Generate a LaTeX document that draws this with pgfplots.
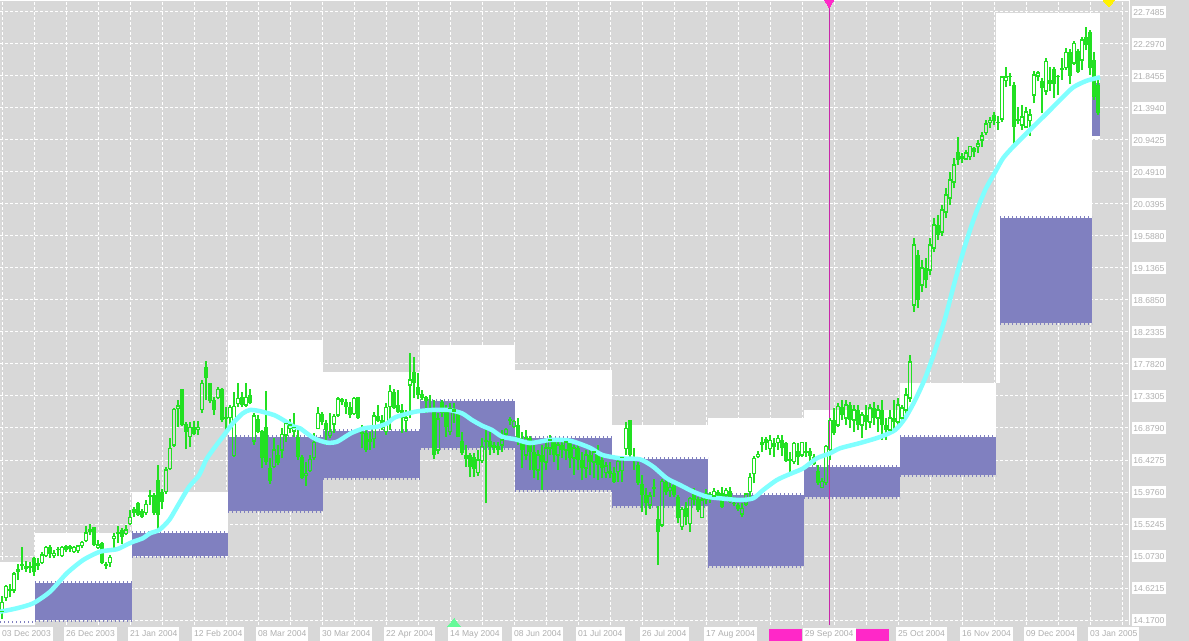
\documentclass[border=0pt]{standalone}
\usepackage{pgfplots}
\pgfplotsset{compat=1.18}
\usepackage{pgfplotstable}
\usepackage{fontspec}
\setmainfont{Liberation Sans}
\definecolor{bgc}{RGB}{216,216,216}
\definecolor{purp}{RGB}{128,128,192}
\definecolor{maC}{RGB}{128,255,255}
\definecolor{cand}{RGB}{34,224,34}
\definecolor{lbl}{RGB}{175,175,175}
\definecolor{pinkc}{RGB}{255,40,200}
\definecolor{vlc}{RGB}{200,40,170}
\definecolor{trig}{RGB}{102,250,153}
\newcommand\lf{\fontsize{8.6}{10}\selectfont}

\pgfplotstableread{
i o h l c
0 14.287 14.509 14.184 14.420
1 14.485 14.664 14.442 14.645
3 14.593 14.843 14.547 14.819
9 14.946 15.041 14.876 14.964
10 14.984 15.134 14.960 15.087
11 15.083 15.218 15.055 15.190
13 15.077 15.158 15.041 15.111
15 15.083 15.218 15.063 15.190
18 15.134 15.214 15.120 15.196
19 15.148 15.228 15.120 15.214
20 15.224 15.289 15.182 15.261
21 15.295 15.496 15.275 15.398
22 15.416 15.520 15.369 15.440
24 15.190 15.299 15.172 15.228
27 14.984 15.087 14.922 15.049
28 15.323 15.393 15.168 15.345
29 15.388 15.496 15.261 15.407
31 15.393 15.510 15.369 15.440
32 15.534 15.720 15.510 15.619
36 15.684 15.863 15.651 15.797
37 15.910 16.004 15.793 15.924
41 15.980 16.333 15.948 16.286
42 16.310 16.734 16.286 16.593
43 16.639 17.157 16.615 17.143
44 17.151 17.274 16.897 17.189
47 16.756 16.968 16.607 16.889
49 16.861 16.982 16.780 16.889
50 17.143 17.556 17.086 17.510
54 17.307 17.462 17.284 17.425
57 17.024 17.203 16.889 17.171
58 16.488 17.387 16.474 17.180
59 17.228 17.510 17.180 17.292
61 17.203 17.510 17.180 17.307
63 16.696 17.086 16.639 17.048
68 16.333 16.734 16.310 16.569
70 16.569 16.875 16.452 16.790
71 16.780 16.978 16.686 16.945
72 16.875 17.006 16.804 16.921
73 16.837 17.086 16.756 16.889
76 16.206 16.403 16.065 16.240
77 16.277 16.498 16.254 16.437
78 16.460 16.804 16.428 16.672
79 16.875 17.180 16.865 17.086
82 16.770 17.086 16.734 16.827
83 16.935 17.072 16.804 17.038
84 17.062 17.312 17.038 17.288
88 17.086 17.312 17.062 17.298
92 16.696 16.827 16.569 16.710
93 16.734 17.109 16.593 17.048
96 16.827 17.228 16.780 17.165
97 17.180 17.486 16.851 17.391
101 16.988 17.133 16.827 17.020
102 17.486 17.941 17.016 17.556
109 16.569 17.086 16.508 17.006
112 16.827 17.228 16.780 17.157
113 17.109 17.228 16.954 17.133
119 16.248 16.569 16.202 16.428
120 16.418 16.734 16.389 16.615
123 16.607 16.686 16.522 16.625
125 16.639 16.851 16.545 16.710
126 16.794 16.875 16.756 16.861
127 16.988 17.038 16.921 17.002
128 16.897 16.992 16.875 16.968
131 16.498 16.851 16.428 16.738
134 16.286 16.569 16.145 16.498
136 16.399 16.710 16.286 16.597
137 16.597 16.780 16.498 16.710
139 16.498 16.710 16.286 16.639
141 16.569 16.738 16.428 16.681
143 16.456 16.639 16.216 16.597
146 16.315 16.569 16.174 16.498
148 16.399 16.569 16.174 16.540
151 16.248 16.403 16.169 16.343
154 16.263 16.452 16.121 16.403
155 16.277 16.474 16.121 16.466
156 16.593 16.968 16.498 16.875
162 15.793 15.980 15.732 15.920
163 16.032 16.159 15.910 16.042
165 15.510 16.155 15.486 16.121
167 15.994 16.121 15.910 16.042
170 15.486 15.769 15.440 15.732
172 15.534 15.910 15.416 15.887
175 15.619 15.934 15.605 15.863
178 15.920 16.028 15.863 15.980
181 15.934 16.028 15.863 15.994
185 15.666 15.825 15.619 15.746
186 15.807 15.966 15.778 15.948
187 15.980 16.248 15.910 16.183
188 16.240 16.484 16.099 16.452
189 16.474 16.559 16.452 16.508
190 16.653 16.756 16.545 16.672
192 16.593 16.780 16.498 16.700
194 16.672 16.780 16.569 16.734
198 16.403 16.686 16.371 16.663
200 16.498 16.686 16.474 16.672
205 16.042 16.169 16.028 16.121
206 16.107 16.639 16.075 16.615
207 16.578 17.016 16.428 16.982
209 16.921 17.228 16.897 17.180
211 17.020 17.274 16.921 17.203
213 16.992 17.203 16.823 17.133
215 16.921 17.105 16.738 17.062
217 16.964 17.218 16.879 17.161
219 17.020 17.203 16.823 17.133
222 16.851 17.133 16.780 17.020
224 16.964 17.302 16.921 17.203
225 17.020 17.203 16.964 17.161
226 17.133 17.443 17.062 17.345
227 17.302 17.909 17.246 17.810
228 18.614 19.560 18.516 19.461
230 18.897 19.249 18.798 19.137
232 19.108 19.560 19.038 19.461
233 19.419 19.842 19.362 19.743
235 19.644 20.025 19.588 19.955
236 19.927 20.265 19.842 20.167
237 20.124 20.491 20.025 20.378
238 20.350 20.689 20.265 20.590
241 20.674 20.801 20.660 20.759
242 20.707 20.862 20.660 20.848
244 20.848 20.943 20.759 20.886
245 20.943 21.060 20.848 20.999
246 21.046 21.225 21.013 21.168
247 21.187 21.263 21.108 21.215
250 21.239 21.846 21.200 21.831
251 21.778 21.976 21.694 21.831
255 21.154 21.436 21.083 21.267
256 21.126 21.412 21.108 21.338
257 21.215 21.375 21.000 21.295
258 21.577 21.920 21.460 21.859
259 21.846 21.920 21.769 21.888
261 21.634 22.095 21.577 22.053
266 21.969 22.237 21.930 22.181
268 22.029 22.334 22.001 22.301
270 22.071 22.400 21.930 22.353
}\bull

\pgfplotstableread{
i o h l c
2 14.612 14.678 14.490 14.583
4 14.890 14.956 14.734 14.851
5 14.956 15.196 14.876 14.928
6 14.932 15.007 14.851 14.894
7 14.928 14.993 14.837 14.908
8 15.041 15.055 14.791 14.851
12 15.200 15.224 15.041 15.105
14 15.172 15.204 15.073 15.158
16 15.218 15.228 15.134 15.153
17 15.214 15.224 15.125 15.168
23 15.482 15.486 15.214 15.228
25 15.261 15.275 14.956 14.970
26 14.956 14.993 14.894 14.936
30 15.440 15.464 15.242 15.345
33 15.736 15.769 15.627 15.675
34 15.817 15.835 15.642 15.651
35 15.708 15.732 15.613 15.619
38 15.934 15.966 15.651 15.675
39 16.145 16.357 15.454 15.651
40 15.972 16.014 15.736 15.839
45 17.425 17.430 16.907 16.921
46 16.935 16.968 16.578 16.827
48 16.889 16.982 16.776 16.794
51 17.735 17.824 17.274 17.580
52 17.510 17.518 17.228 17.264
53 17.274 17.321 17.062 17.133
55 17.425 17.439 16.959 16.992
56 17.034 17.180 16.813 17.010
60 17.321 17.391 17.180 17.203
62 17.340 17.425 17.213 17.228
64 17.002 17.062 16.804 16.827
65 16.837 16.851 16.310 16.452
66 16.893 17.401 16.357 16.403
67 16.310 16.452 16.085 16.131
69 16.498 16.639 16.357 16.381
74 16.756 16.897 16.428 16.474
75 16.474 16.498 16.159 16.169
80 17.072 17.109 16.921 16.968
81 16.945 16.992 16.639 16.851
85 17.288 17.307 17.203 17.242
86 17.242 17.284 17.077 17.180
87 17.180 17.242 17.016 17.062
89 17.312 17.316 17.006 17.016
90 16.827 16.921 16.593 16.799
91 16.804 16.851 16.536 16.569
94 17.048 17.203 16.959 16.978
95 16.992 17.062 16.851 16.875
98 17.391 17.425 17.147 17.157
99 17.203 17.415 17.095 17.109
100 17.133 17.218 16.804 17.016
103 17.673 17.885 17.298 17.518
104 17.462 17.651 17.284 17.345
105 17.354 17.415 17.274 17.298
106 17.312 17.331 17.095 17.260
107 17.147 17.345 17.109 17.119
108 17.143 17.274 16.437 16.498
110 17.246 17.274 17.038 17.095
111 17.157 17.203 16.756 16.889
114 17.086 17.109 16.748 16.756
115 16.696 16.827 16.498 16.530
116 16.498 16.639 16.333 16.442
117 16.498 16.522 16.192 16.324
118 16.466 16.522 16.192 16.300
121 16.710 16.851 15.817 16.686
122 16.700 16.827 16.498 16.615
124 16.625 16.686 16.498 16.569
129 16.921 17.020 16.639 16.710
130 16.710 16.823 16.315 16.569
132 16.738 16.766 16.286 16.540
133 16.540 16.710 16.174 16.286
135 16.498 16.639 16.004 16.399
138 16.710 16.738 16.399 16.498
140 16.639 16.710 16.456 16.569
142 16.681 16.710 16.315 16.456
144 16.597 16.639 16.286 16.428
145 16.428 16.540 16.145 16.315
147 16.498 16.569 16.216 16.399
149 16.540 16.639 16.145 16.357
150 16.428 16.474 16.169 16.310
152 16.277 16.403 16.169 16.230
153 16.240 16.333 16.099 16.121
157 16.992 16.995 16.474 16.498
158 16.474 16.593 16.286 16.428
159 16.357 16.403 16.075 16.107
160 16.089 16.216 15.698 15.934
161 15.934 16.028 15.651 15.817
164 15.591 15.778 14.946 15.416
166 16.121 16.155 15.934 15.980
168 16.075 16.107 15.910 15.934
169 15.901 15.934 15.534 15.605
171 15.746 15.839 15.510 15.627
173 15.958 16.028 15.793 15.863
174 15.873 15.910 15.698 15.722
176 15.966 16.014 15.807 15.863
177 15.943 15.980 15.825 15.910
179 15.980 16.004 15.863 15.887
180 15.966 16.042 15.746 15.769
182 15.994 16.042 15.825 15.839
183 15.825 15.910 15.778 15.807
184 15.793 15.825 15.708 15.732
191 16.720 16.748 16.569 16.663
193 16.663 16.734 16.474 16.615
195 16.710 16.780 16.484 16.593
196 16.663 16.686 16.403 16.418
197 16.437 16.545 16.263 16.413
199 16.559 16.663 16.357 16.466
201 16.559 16.686 16.474 16.522
202 16.559 16.593 16.418 16.484
203 16.474 16.512 16.357 16.371
204 16.277 16.357 16.075 16.099
208 16.992 17.157 16.780 16.804
210 17.175 17.274 16.992 17.062
212 17.203 17.246 16.879 16.992
214 17.133 17.203 16.851 16.921
216 17.062 17.203 16.851 16.964
218 17.161 17.246 16.921 17.020
220 17.133 17.274 16.710 16.921
221 16.921 17.020 16.710 16.851
223 17.020 17.274 16.851 16.964
229 19.320 19.390 18.572 18.685
231 19.137 19.278 18.854 18.967
234 19.743 19.884 19.532 19.602
239 20.773 20.985 20.590 20.660
240 20.717 20.759 20.618 20.674
243 20.829 20.848 20.707 20.773
248 21.295 21.341 21.154 21.215
249 21.200 21.281 21.083 21.187
252 21.846 21.892 21.704 21.831
253 21.718 21.761 20.848 21.130
254 21.239 21.412 21.168 21.215
260 21.769 21.822 21.320 21.676
262 21.789 21.976 21.634 21.732
263 21.944 21.976 21.540 21.732
264 21.846 21.860 21.577 21.831
265 21.955 22.095 21.789 21.930
267 22.181 22.223 21.727 21.846
269 22.200 22.223 21.883 21.906
271 22.391 22.532 22.212 22.282
272 22.461 22.494 21.860 21.955
273 22.071 22.188 21.508 21.545
274 21.718 21.799 21.295 21.327
}\bear

\pgfplotstableread{
i p
-0.5 14.287
3.7 14.335
7.8 14.406
12 14.569
16.2 14.829
20.3 15.017
24.5 15.134
28.7 15.168
31 15.228
32.8 15.275
35.2 15.323
37 15.393
39.3 15.44
41.8 15.581
44.3 15.817
46.8 16.051
49.3 16.216
51 16.428
52.7 16.569
55.2 16.756
57.7 16.945
60.2 17.086
62 17.133
64.3 17.119
68 17.062
70.3 16.992
73 16.897
74.5 16.875
78 16.734
81.3 16.672
83.8 16.686
87.2 16.804
90.5 16.875
93.8 16.897
96.3 16.945
98.3 17.03
103.3 17.109
107.5 17.133
111.7 17.133
115 17.086
117.5 16.992
120 16.912
122.5 16.851
125 16.756
128.3 16.72
132 16.667
137 16.71
142 16.70
147 16.60
150 16.50
154.5 16.452
159.5 16.437
162.8 16.333
166.2 16.169
169.5 16.075
172.8 15.98
176.2 15.91
179.5 15.887
184.5 15.863
187.8 15.887
190.3 16.004
193.7 16.145
197 16.23
200.3 16.31
203.7 16.452
207 16.522
209.5 16.593
214.5 16.667
219.5 16.752
223.3 16.851
225.8 17.02
228.3 17.274
230.8 17.584
233.3 17.98
235.8 18.43
238.3 18.967
240.8 19.461
243.3 19.884
245.8 20.237
248.3 20.491
250.3 20.689
252.8 20.848
255.3 20.989
257.8 21.13
261.2 21.319
264.5 21.507
267.8 21.686
271.2 21.779
274.5 21.827
}\ma

\begin{document}
\begin{tikzpicture}
\useasboundingbox (0,0) rectangle (1189bp,641bp);
\fill[bgc] (0,0) rectangle (1189bp,641bp);
\begin{axis}[
  at={(0bp,16bp)}, anchor=south west,
  x=4bp, y=70.8749bp,
  xmin=-0.5, xmax=281.75,
  ymin=14.0995, ymax=22.9037,
  axis line style={draw=none},
  clip=false,
  major tick length=0pt, minor tick length=0pt,
  xtick={0,16,32,48,64,80,96,112,128,144,160,176,224,240,256,272},
  xticklabels={03 Dec 2003,26 Dec 2003,21 Jan 2004,12 Feb 2004,08 Mar 2004,30 Mar 2004,22 Apr 2004,14 May 2004,08 Jun 2004,01 Jul 2004,26 Jul 2004,17 Aug 2004,25 Oct 2004,16 Nov 2004,09 Dec 2004,03 Jan 2005},
  minor xtick={8,24,40,56,72,88,104,120,136,152,168,184,192,200,208,216,232,248,264,280},
  ytick={14.17,14.6215,15.073,15.5245,15.976,16.4275,16.879,17.3305,17.782,18.2335,18.685,19.1365,19.588,20.0395,20.491,20.9425,21.394,21.8455,22.297,22.7485},
  yticklabels={14.1700,14.6215,15.0730,15.5245,15.9760,16.4275,16.8790,17.3305,17.7820,18.2335,18.6850,19.1365,19.5880,20.0395,20.4910,20.9425,21.3940,21.8455,22.2970,22.7485},
  yticklabel pos=right,
  grid=both,
  major grid style={white, line width=1bp, dash pattern=on 3bp off 2bp},
  minor grid style={white, line width=1bp, dash pattern=on 3bp off 2bp},
  xticklabel style={font=\lf, text=lbl, fill=white, anchor=north west, inner xsep=2bp, inner ysep=3bp, text height=6.3bp, text depth=1.6bp, xshift=-2bp, yshift=-2bp},
  yticklabel style={font=\lf, text=lbl, fill=white, anchor=west, inner xsep=1.7bp, inner ysep=3.3bp, text height=6.3bp, text depth=0bp, xshift=2.5bp},
]
% white range boxes
\addplot[fill=white, draw=none] coordinates {(-0.5,14.0995) (8.25,14.0995) (8.25,14.988) (-0.5,14.988)};
\addplot[fill=white, draw=none] coordinates {(8.25,14.17) (32.5,14.17) (32.5,15.398) (8.25,15.398)};
\addplot[fill=white, draw=none] coordinates {(32.5,15.073) (56.5,15.073) (56.5,15.976) (32.5,15.976)};
\addplot[fill=white, draw=none] coordinates {(56.5,15.708) (80.25,15.708) (80.25,18.121) (56.5,18.121)};
\addplot[fill=white, draw=none] coordinates {(80.25,16.174) (104.5,16.174) (104.5,17.669) (80.25,17.669)};
\addplot[fill=white, draw=none] coordinates {(104.5,16.597) (128.25,16.597) (128.25,18.05) (104.5,18.05)};
\addplot[fill=white, draw=none] coordinates {(128.25,16.004) (152.5,16.004) (152.5,17.697) (128.25,17.697)};
\addplot[fill=white, draw=none] coordinates {(152.5,15.778) (176.5,15.778) (176.5,16.921) (152.5,16.921)};
\addplot[fill=white, draw=none] coordinates {(176.5,14.932) (200.5,14.932) (200.5,17.02) (176.5,17.02)};
\addplot[fill=white, draw=none] coordinates {(200.5,15.905) (224.5,15.905) (224.5,17.133) (200.5,17.133)};
\addplot[fill=white, draw=none] coordinates {(224.5,16.216) (248.5,16.216) (248.5,17.514) (224.5,17.514)};
\addplot[fill=white, draw=none] coordinates {(248.5,17.514) (249.5,17.514) (249.5,22.734) (248.5,22.734)};
\addplot[fill=white, draw=none] coordinates {(248.5,18.36) (272.5,18.36) (272.5,22.734) (248.5,22.734)};
\addplot[fill=white, draw=none] coordinates {(272.5,20.95) (274.5,20.95) (274.5,22.734) (272.5,22.734)};
% purple boxes
\addplot[fill=purp, draw=none] coordinates {(8.25,14.17) (32.5,14.17) (32.5,14.692) (8.25,14.692)};
\addplot[fill=purp, draw=none] coordinates {(32.5,15.073) (56.5,15.073) (56.5,15.398) (32.5,15.398)};
\addplot[fill=purp, draw=none] coordinates {(56.5,15.708) (80.25,15.708) (80.25,16.752) (56.5,16.752)};
\addplot[fill=purp, draw=none] coordinates {(80.25,16.174) (104.5,16.174) (104.5,16.837) (80.25,16.837)};
\addplot[fill=purp, draw=none] coordinates {(104.5,16.597) (128.25,16.597) (128.25,17.26) (104.5,17.26)};
\addplot[fill=purp, draw=none] coordinates {(128.25,16.004) (152.5,16.004) (152.5,16.738) (128.25,16.738)};
\addplot[fill=purp, draw=none] coordinates {(152.5,15.778) (176.5,15.778) (176.5,16.442) (152.5,16.442)};
\addplot[fill=purp, draw=none] coordinates {(176.5,14.932) (200.5,14.932) (200.5,15.934) (176.5,15.934)};
\addplot[fill=purp, draw=none] coordinates {(200.5,15.905) (224.5,15.905) (224.5,16.329) (200.5,16.329)};
\addplot[fill=purp, draw=none] coordinates {(224.5,16.216) (248.5,16.216) (248.5,16.752) (224.5,16.752)};
\addplot[fill=purp, draw=none] coordinates {(249.5,18.36) (272.5,18.36) (272.5,19.842) (249.5,19.842)};
\addplot[fill=purp, draw=none] coordinates {(272.5,20.999) (274.5,20.999) (274.5,21.747) (272.5,21.747)};
% comb edges of purple boxes
\pgfplotsset{comb/.style={purp, line width=2bp, dash pattern=on 1bp off 3bp}}
\addplot[comb] coordinates {(-0.5,14.142) (8.25,14.142)};
\addplot[comb] coordinates {(8.25,14.706) (32.5,14.706)};
\addplot[comb] coordinates {(8.25,14.156) (32.5,14.156)};
\addplot[comb] coordinates {(32.5,15.412) (56.5,15.412)};
\addplot[comb] coordinates {(32.5,15.059) (56.5,15.059)};
\addplot[comb] coordinates {(56.5,16.766) (80.25,16.766)};
\addplot[comb] coordinates {(56.5,15.694) (80.25,15.694)};
\addplot[comb] coordinates {(80.25,16.851) (104.5,16.851)};
\addplot[comb] coordinates {(80.25,16.160) (104.5,16.160)};
\addplot[comb] coordinates {(104.5,17.274) (128.25,17.274)};
\addplot[comb] coordinates {(104.5,16.583) (128.25,16.583)};
\addplot[comb] coordinates {(128.25,16.752) (152.5,16.752)};
\addplot[comb] coordinates {(128.25,15.990) (152.5,15.990)};
\addplot[comb] coordinates {(152.5,16.456) (176.5,16.456)};
\addplot[comb] coordinates {(152.5,15.764) (176.5,15.764)};
\addplot[comb] coordinates {(176.5,15.948) (200.5,15.948)};
\addplot[comb] coordinates {(176.5,14.918) (200.5,14.918)};
\addplot[comb] coordinates {(200.5,16.343) (224.5,16.343)};
\addplot[comb] coordinates {(200.5,15.891) (224.5,15.891)};
\addplot[comb] coordinates {(224.5,16.766) (248.5,16.766)};
\addplot[comb] coordinates {(224.5,16.202) (248.5,16.202)};
\addplot[comb] coordinates {(249.5,19.856) (272.5,19.856)};
\addplot[comb] coordinates {(249.5,18.346) (272.5,18.346)};
% vertical line
\addplot[vlc, line width=1bp] coordinates {(206.8,14.0995) (206.8,22.9037)};
% bearish candles (filled)
\addplot[cand, line width=1.2bp, quiver={u=0, v=\thisrow{h}-\thisrow{l}}] table[x=i, y=l] {\bear};
\addplot[cand, line width=3.2bp, quiver={u=0, v=\thisrow{o}-\thisrow{c}}] table[x=i, y=c] {\bear};
% bullish candles (hollow)
\addplot[cand, line width=1.2bp, quiver={u=0, v=\thisrow{h}-\thisrow{c}}] table[x=i, y=c] {\bull};
\addplot[cand, line width=1.2bp, quiver={u=0, v=\thisrow{o}-\thisrow{l}}] table[x=i, y=l] {\bull};
\addplot[cand, line width=1.1bp, quiver={u=0, v=\thisrow{c}-\thisrow{o}}] table[x expr=\thisrow{i}-0.27, y=o] {\bull};
\addplot[cand, line width=1.1bp, quiver={u=0, v=\thisrow{c}-\thisrow{o}}] table[x expr=\thisrow{i}+0.27, y=o] {\bull};
\addplot[cand, only marks, mark=-, mark size=1.6bp, mark options={line width=1.1bp}] table[x=i, y=o] {\bull};
\addplot[cand, only marks, mark=-, mark size=1.6bp, mark options={line width=1.1bp}] table[x=i, y=c] {\bull};
% moving average
\addplot[maC, line width=4.5bp, smooth, tension=0.4, line join=round] table[x=i, y=p] {\ma};
% markers
\addplot[pinkc, only marks, mark=triangle*, mark size=5bp, mark options={rotate=180, fill=pinkc, draw=pinkc, line width=0pt}] coordinates {(206.8,22.88)};
\addplot[yellow, only marks, mark=triangle*, mark size=6.2bp, mark options={rotate=180, yscale=0.65, fill=yellow, draw=yellow, line width=0pt}] coordinates {(276.7,22.88)};
\addplot[trig, only marks, mark=triangle*, mark size=8bp, mark options={yscale=0.7, fill=trig, draw=trig, line width=0pt}] coordinates {(113,14.112)};
% frame lines
\draw[white, line width=1bp] (rel axis cs:0,1) -- (rel axis cs:1,1) -- (rel axis cs:1,0);
% vertical line time label
\node[fill=pinkc, minimum width=33bp, minimum height=12bp, inner sep=0pt, anchor=north east, xshift=-27.3bp, yshift=-4bp] at (axis cs:206.8,14.0995) {};
\node[fill=pinkc, minimum width=33bp, minimum height=12bp, inner sep=0pt, anchor=north west, xshift=26.2bp, yshift=-4bp] at (axis cs:206.8,14.0995) {};
\node[fill=white, font=\lf, text=lbl, inner xsep=2bp, inner ysep=3bp, text height=6.3bp, text depth=1.6bp, anchor=north, yshift=-2.5bp] at (axis cs:206.8,14.0995) {29 Sep 2004};
\end{axis}
\end{tikzpicture}
\end{document}
